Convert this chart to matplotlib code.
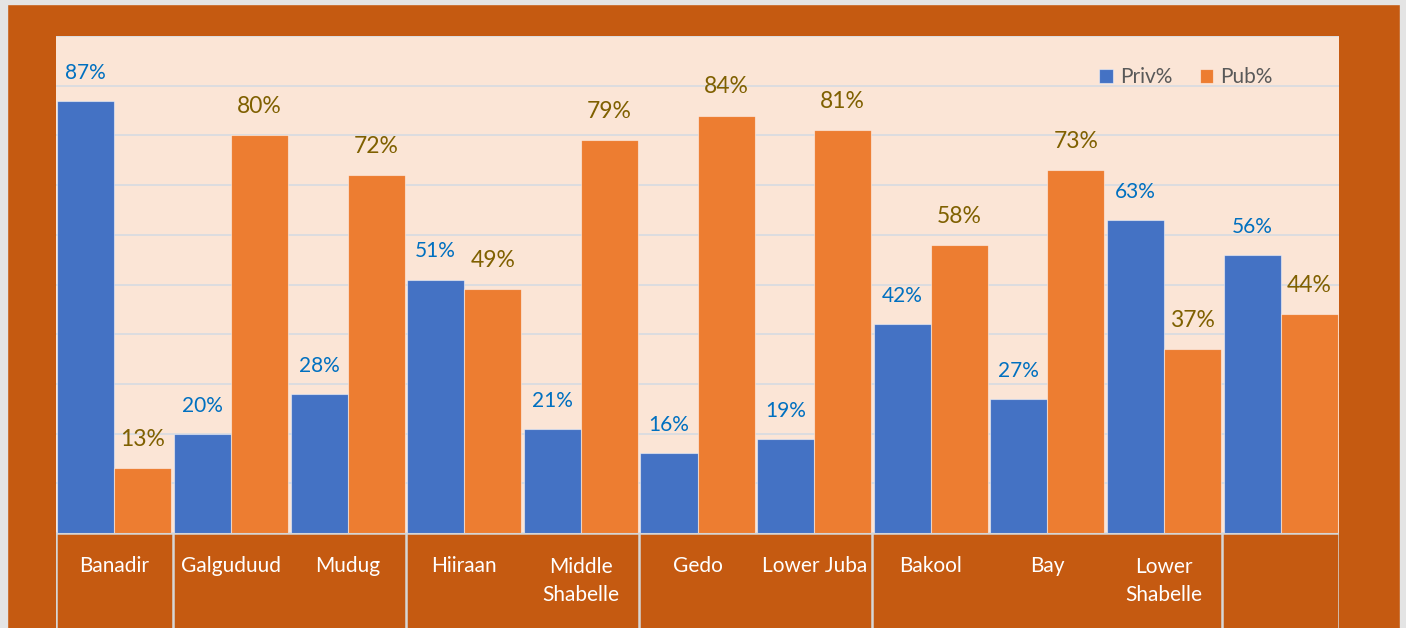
import matplotlib
matplotlib.use("Agg")
import matplotlib.pyplot as plt
from matplotlib.patches import Rectangle
import numpy as np

# data
regions = ["Banadir", "Galguduud", "Mudug", "Hiiraan", "Middle\nShabelle",
           "Gedo", "Lower Juba", "Bakool", "Bay", "Lower\nShabelle", ""]
priv = [87, 20, 28, 51, 21, 16, 19, 42, 27, 63, 56]
pub = [13, 80, 72, 49, 79, 84, 81, 58, 73, 37, 44]
# group separators on the category axis (between slots)
group_edges = [-0.5, 0.5, 2.5, 4.5, 6.5, 9.5, 10.5]

BLUE = "#4472C4"
ORANGE = "#ED7D31"
OUTER = "#C55A11"
INNER = "#FBE5D6"
GRID = "#D9DCE0"

plt.rcParams["font.family"] = ["Lato", "DejaVu Sans"]

W, H = 1406, 628
fig = plt.figure(figsize=(W / 100, H / 100), dpi=100, facecolor=OUTER)

# thin light border like the screenshot
fig.patches.append(Rectangle((0, 0), 7 / W, 1, transform=fig.transFigure,
                             color="#E4E4E4", zorder=0))
fig.patches.append(Rectangle((0, 1 - 4 / H), 1, 4 / H, transform=fig.transFigure,
                             color="#E4E4E4", zorder=0))
fig.patches.append(Rectangle((1400 / W, 0), 6 / W, 1, transform=fig.transFigure,
                             color="#E4E4E4", zorder=0))

left, right, top, base = 56, 1339, 36, 533
ax = fig.add_axes([left / W, 1 - base / H, (right - left) / W, (base - top) / H])
ax.set_facecolor(INNER)

x = np.arange(len(regions))
bw = 0.489
b1 = ax.bar(x - bw / 2, priv, bw, color=BLUE, edgecolor="#FFFFFF80", linewidth=0.8,
            label="Priv%", zorder=3)
b2 = ax.bar(x + bw / 2, pub, bw, color=ORANGE, edgecolor="#FFFFFF80", linewidth=0.8,
            label="Pub%", zorder=3)

for rect, v in zip(b1, priv):
    ax.annotate(f"{v}%", (rect.get_x() + rect.get_width() / 2, v),
                xytext=(0, 13), textcoords="offset points", ha="center", va="bottom",
                color="#0070C0", fontsize=15)
for rect, v in zip(b2, pub):
    ax.annotate(f"{v}%", (rect.get_x() + rect.get_width() / 2, v),
                xytext=(0, 13), textcoords="offset points", ha="center", va="bottom",
                color="#7F6000", fontsize=16.5)

ax.set_xlim(-0.5, len(regions) - 0.5)
ax.set_ylim(0, 100)
ax.set_yticks(np.arange(0, 101, 10))
ax.yaxis.grid(True, color=GRID, linewidth=1.3, zorder=0)
ax.set_axisbelow(True)
ax.tick_params(left=False, bottom=False, labelleft=False, labelbottom=False)
for s in ax.spines.values():
    s.set_visible(False)

leg = ax.legend(loc="upper right", bbox_to_anchor=(0.963, 0.975), ncol=2, frameon=False,
                fontsize=15, handlelength=0.65, handleheight=0.65, columnspacing=1.3,
                handletextpad=0.35)
for t in leg.get_texts():
    t.set_color("#595959")

# category label strip
lax = fig.add_axes([left / W, 0, (right - left) / W, (H - base) / H])
lax.set_xlim(-0.5, len(regions) - 0.5)
lax.set_ylim(H - base, 0)
lax.set_facecolor(OUTER)
lax.axis("off")
lax.axhline(0, color="#D6D6D6", linewidth=1.8)
for e in group_edges:
    lax.axvline(e, color="#D6D6D6", linewidth=1.8)
for xi, name in zip(x, regions):
    lax.text(xi, 33 if "\n" not in name else 48, name, ha="center", va="center",
             color="white", fontsize=15, linespacing=1.55)

fig.savefig("out.png", dpi=100, facecolor=OUTER)
